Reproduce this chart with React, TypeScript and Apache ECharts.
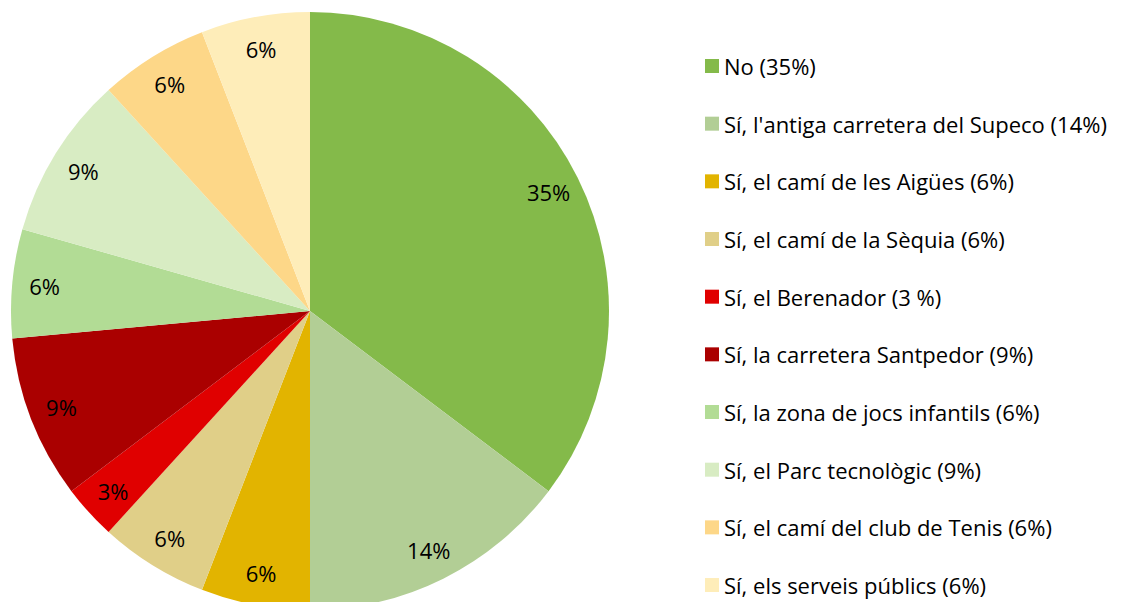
import React, { useEffect, useRef } from "react";
import * as echarts from "echarts";

const categories = [
  "No (35%)",
  "Sí, l'antiga carretera del Supeco (14%)",
  "Sí, el camí de les Aigües (6%)",
  "Sí, el camí de la Sèquia (6%)",
  "Sí, el Berenador (3 %)",
  "Sí, la carretera Santpedor (9%)",
  "Sí, la zona de jocs infantils (6%)",
  "Sí, el Parc tecnològic (9%)",
  "Sí, el camí del club de Tenis (6%)",
  "Sí, els serveis públics (6%)",
];
// responses (out of 34)
const counts = [12, 5, 2, 2, 1, 3, 2, 3, 2, 2];
const percentLabels = ["35%", "14%", "6%", "6%", "3%", "9%", "6%", "9%", "6%", "6%"];
const colors = [
  "#84BA4A",
  "#B2CE95",
  "#E2B400",
  "#E0CF88",
  "#E00000",
  "#AA0000",
  "#B2DC95",
  "#D8ECC3",
  "#FDD788",
  "#FEEDB9",
];

export default function App() {
  const ref = useRef<HTMLDivElement>(null);
  useEffect(() => {
    if (!ref.current) return;
    const chart = echarts.init(ref.current, undefined, { renderer: "svg" });
    const font = "'Open Sans', sans-serif";
    const data = categories.map((name, i) => ({
      name,
      value: counts[i],
      itemStyle: { color: colors[i] },
    }));
    const labelData = categories.map((name, i) => ({
      name,
      value: counts[i],
      label: { formatter: percentLabels[i] },
    }));
    chart.setOption({
      animation: false,
      legend: {
        orient: "vertical",
        left: 705,
        top: 55,
        height: 560,
        padding: 0,
        itemWidth: 14,
        itemHeight: 14,
        itemGap: 35.67,
        icon: "rect",
        selectedMode: false,
        textStyle: { fontFamily: font, fontSize: 22, color: "#000", lineHeight: 22 },
        data: categories,
      },
      series: [
        {
          type: "pie",
          center: [310, 311],
          radius: [0, 299],
          startAngle: 90,
          clockwise: true,
          silent: true,
          label: { show: false },
          labelLine: { show: false },
          itemStyle: { borderWidth: 0 },
          data,
        },
        {
          type: "pie",
          center: [310, 311],
          radius: [228, 299],
          startAngle: 90,
          clockwise: true,
          silent: true,
          itemStyle: { color: "rgba(0,0,0,0)", borderWidth: 0 },
          label: {
            show: true,
            position: "inside",
            fontFamily: font,
            fontSize: 22,
            color: "#000",
          },
          labelLine: { show: false },
          data: labelData,
        },
      ],
    });
    return () => chart.dispose();
  }, []);
  return (
    <div
      ref={ref}
      style={{ position: "absolute", left: 0, top: 0, width: 1137, height: 602, background: "#fff" }}
    />
  );
}
